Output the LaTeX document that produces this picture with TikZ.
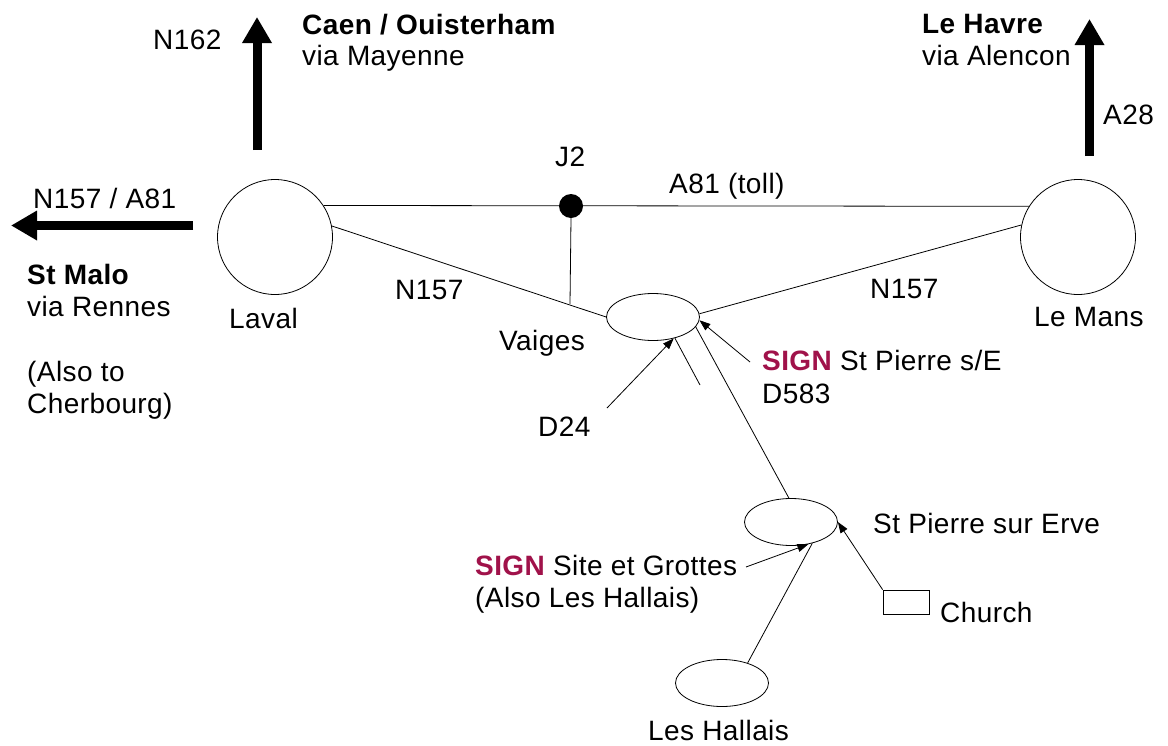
\documentclass[tikz,border=0pt]{standalone}
\usepackage{fontspec}
\setmainfont[LetterSpace=1.5]{Liberation Sans}
\usetikzlibrary{arrows.meta,shapes.geometric}
\definecolor{signred}{RGB}{160,18,74}
\begin{document}
\begin{tikzpicture}[x=1pt,y=-1pt,
  every node/.style={font=\fontsize{28}{32}\selectfont},
  lbl/.style={anchor=base west,inner sep=0pt},
  town/.style={circle,draw,line width=0.8pt,minimum size=115pt,inner sep=0pt},
  village/.style={ellipse,draw,line width=0.8pt,minimum width=93pt,minimum height=47pt,inner sep=0pt},
  road/.style={line width=0.8pt},
  thinarrow/.style={line width=0.8pt,-{Triangle[length=11pt,width=8pt]}},
  bigarrow/.style={line width=9pt,-{Triangle[length=26pt,width=28pt]}},
  boldlbl/.style={lbl,font=\fontsize{28}{32}\selectfont\bfseries}]
\useasboundingbox (0,0) rectangle (1168,745);

% towns and villages
\node[town] (laval) at (275,237) {};
\node[town] (lemans) at (1078,237) {};
\node[village] (vaiges) at (653,317) {};
\node[village] (stpierre) at (791,522) {};
\node[village] (hallais) at (722,683) {};
\node[draw,line width=0.8pt,minimum width=46pt,minimum height=24pt,inner sep=0pt] (church) at (906,602) {};

% free ends
\coordinate (n162s) at (257,150);
\coordinate (n162t) at (257,17);
\coordinate (wests) at (193,225.5);
\coordinate (westt) at (11,225.5);
\coordinate (a28s) at (1089.5,156);
\coordinate (a28t) at (1089.5,19);
\coordinate (jfoot) at (570,304);
\coordinate (d24s) at (607,408);
\coordinate (spur) at (700,385);
\coordinate (d583s) at (750,362);
\coordinate (grottes) at (746,567);

% roads
\draw[road] (laval.33) -- (lemans.148);
\draw[road] (laval.11) -- (vaiges.west);
\draw[road] (lemans.168) -- (vaiges.4);
\node[circle,fill,minimum size=24pt,inner sep=0pt] (j2) at (571,206) {};
\draw[road] (j2.south) -- (jfoot);
\draw[road] (vaiges.-13) -- (stpierre.95);
\draw[road] (vaiges.-44) -- (spur);
\draw[road] (hallais.38) -- (stpierre.-45);

% thin arrows
\draw[thinarrow] (d24s) -- (vaiges.-46);
\draw[thinarrow] (d583s) -- (vaiges.-4);
\draw[thinarrow] (grottes) -- (stpierre.-52);
\draw[thinarrow] (church.north west) -- (stpierre.0);

% big arrows
\draw[bigarrow] (n162s) -- (n162t);
\draw[bigarrow] (wests) -- (westt);
\draw[bigarrow] (a28s) -- (a28t);

% labels
\node[lbl] (tn162) at (153,49) {N162};
\node[boldlbl] (tcaen) at (302,34) {Caen / Ouisterham};
\node[lbl] (tmay) at (302,65) {via Mayenne};
\node[boldlbl] (thavre) at (922,33) {Le Havre};
\node[lbl] (talen) at (922,65) {via Alencon};
\node[lbl] (ta28) at (1103,124) {A28};
\node[lbl] (tn157w) at (33,208) {N157 / A81};
\node[boldlbl] (tmalo) at (27,284) {St Malo};
\node[lbl] (trennes) at (27,316) {via Rennes};
\node[lbl] (talso) at (27,381) {(Also to};
\node[lbl] (tcher) at (27,413) {Cherbourg)};
\node[lbl] (tlaval) at (229,328) {Laval};
\node[lbl] (tn157a) at (395,299) {N157};
\node[lbl] (tj2) at (555,166) {J2};
\node[lbl] (ta81) at (669,193) {A81 (toll)};
\node[lbl] (tn157b) at (870,298) {N157};
\node[lbl] (tmans) at (1034,326) {Le Mans};
\node[lbl] (tvaiges) at (499,350) {Vaiges};
\node[lbl] (td24) at (538,436) {D24};
\node[lbl] (tsign1) at (762,370) {\textcolor{signred}{\bfseries SIGN} St Pierre s/E};
\node[lbl] (td583) at (762,403) {D583};
\node[lbl] (tstp) at (873,533) {St Pierre sur Erve};
\node[lbl] (tchurch) at (940,622) {Church};
\node[lbl] (tsign2) at (475,575) {\textcolor{signred}{\bfseries SIGN} Site et Grottes};
\node[lbl] (talso2) at (475,607) {(Also Les Hallais)};
\node[lbl] (thall) at (648,740) {Les Hallais};
\end{tikzpicture}
\end{document}
